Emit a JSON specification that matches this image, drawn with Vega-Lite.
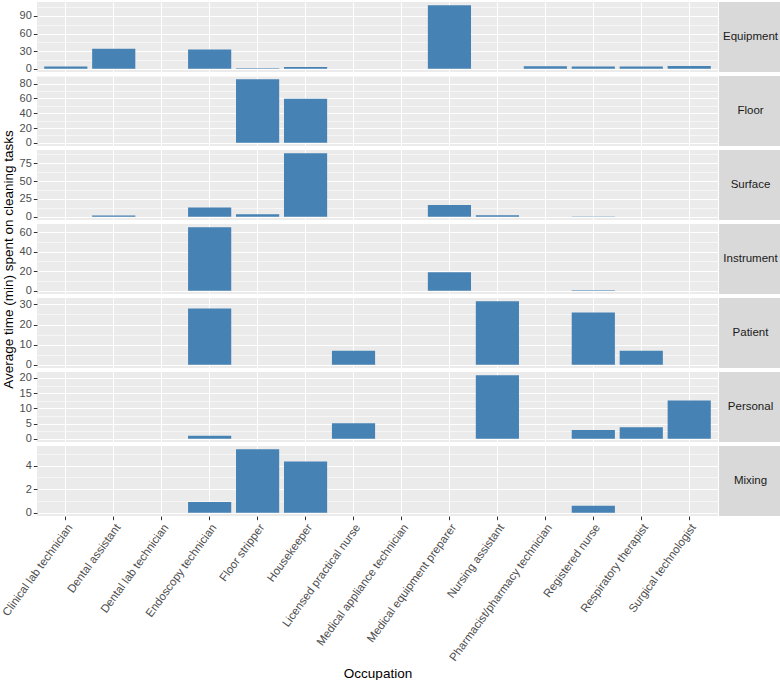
{
  "$schema": "https://vega.github.io/schema/vega-lite/v6.json",
  "padding": {"left": 0, "top": 2, "right": 0, "bottom": 4},
  "background": "white",
  "bounds": "flush",
  "config": {
    "font": "Liberation Sans",
    "view": {"fill": "#EBEBEB", "stroke": null},
    "axis": {
      "domain": false,
      "gridColor": "#FFFFFF",
      "gridWidth": 1.1,
      "tickColor": "#333333",
      "tickSize": 3.7,
      "tickWidth": 1,
      "labelColor": "#4D4D4D",
      "labelFont": "Liberation Sans",
      "labelFontSize": 11,
      "labelPadding": 2,
      "titleFont": "Liberation Sans",
      "titleFontSize": 13.5,
      "titleFontWeight": "normal",
      "titleColor": "#000000"
    }
  },
  "datasets": {
    "cleaning": [
      {"Task": "Equipment", "Occupation": "Clinical lab technician", "Minutes": 4},
      {"Task": "Equipment", "Occupation": "Dental assistant", "Minutes": 34},
      {"Task": "Equipment", "Occupation": "Endoscopy technician", "Minutes": 33},
      {"Task": "Equipment", "Occupation": "Floor stripper", "Minutes": 1.1},
      {"Task": "Equipment", "Occupation": "Housekeeper", "Minutes": 3.2},
      {"Task": "Equipment", "Occupation": "Medical equipment preparer", "Minutes": 108.4},
      {"Task": "Equipment", "Occupation": "Pharmacist/pharmacy technician", "Minutes": 4.5},
      {"Task": "Equipment", "Occupation": "Registered nurse", "Minutes": 4},
      {"Task": "Equipment", "Occupation": "Respiratory therapist", "Minutes": 4},
      {"Task": "Equipment", "Occupation": "Surgical technologist", "Minutes": 5},
      {"Task": "Floor", "Occupation": "Floor stripper", "Minutes": 86},
      {"Task": "Floor", "Occupation": "Housekeeper", "Minutes": 59.5},
      {"Task": "Surface", "Occupation": "Dental assistant", "Minutes": 2},
      {"Task": "Surface", "Occupation": "Endoscopy technician", "Minutes": 13},
      {"Task": "Surface", "Occupation": "Floor stripper", "Minutes": 3.5},
      {"Task": "Surface", "Occupation": "Housekeeper", "Minutes": 89},
      {"Task": "Surface", "Occupation": "Medical equipment preparer", "Minutes": 16.7},
      {"Task": "Surface", "Occupation": "Nursing assistant", "Minutes": 2.3},
      {"Task": "Surface", "Occupation": "Registered nurse", "Minutes": 0.4},
      {"Task": "Instrument", "Occupation": "Endoscopy technician", "Minutes": 65},
      {"Task": "Instrument", "Occupation": "Medical equipment preparer", "Minutes": 19},
      {"Task": "Instrument", "Occupation": "Registered nurse", "Minutes": 0.7},
      {"Task": "Patient", "Occupation": "Endoscopy technician", "Minutes": 28},
      {"Task": "Patient", "Occupation": "Licensed practical nurse", "Minutes": 7},
      {"Task": "Patient", "Occupation": "Nursing assistant", "Minutes": 31.6},
      {"Task": "Patient", "Occupation": "Registered nurse", "Minutes": 26},
      {"Task": "Patient", "Occupation": "Respiratory therapist", "Minutes": 7},
      {"Task": "Personal", "Occupation": "Endoscopy technician", "Minutes": 1},
      {"Task": "Personal", "Occupation": "Licensed practical nurse", "Minutes": 5.1},
      {"Task": "Personal", "Occupation": "Nursing assistant", "Minutes": 20.9},
      {"Task": "Personal", "Occupation": "Registered nurse", "Minutes": 2.9},
      {"Task": "Personal", "Occupation": "Respiratory therapist", "Minutes": 3.8},
      {"Task": "Personal", "Occupation": "Surgical technologist", "Minutes": 12.6},
      {"Task": "Mixing", "Occupation": "Endoscopy technician", "Minutes": 0.92},
      {"Task": "Mixing", "Occupation": "Floor stripper", "Minutes": 5.4},
      {"Task": "Mixing", "Occupation": "Housekeeper", "Minutes": 4.36},
      {"Task": "Mixing", "Occupation": "Registered nurse", "Minutes": 0.6}
    ],
    "strips": [
      {"Task": "Equipment"}, {"Task": "Floor"}, {"Task": "Surface"}, {"Task": "Instrument"},
      {"Task": "Patient"}, {"Task": "Personal"}, {"Task": "Mixing"}
    ]
  },
  "columns": 2,
  "spacing": {"row": 4, "column": 1},
  "concat": [
    {
      "width": 681, "height": 70,
      "data": {"name": "cleaning"},
      "transform": [{"filter": "datum.Task === 'Equipment'"}],
      "mark": {"type": "bar", "color": "#4682B4"},
      "encoding": {
        "x": {"field": "Occupation", "type": "nominal",
          "scale": {"domain": ["Clinical lab technician","Dental assistant","Dental lab technician","Endoscopy technician","Floor stripper","Housekeeper","Licensed practical nurse","Medical appliance technician","Medical equipment preparer","Nursing assistant","Pharmacist/pharmacy technician","Registered nurse","Respiratory therapist","Surgical technologist"], "paddingInner": 0.1, "paddingOuter": 0.15},
          "axis": {"labels": false, "ticks": false, "title": null, "grid": true}},
        "y": {"field": "Minutes", "type": "quantitative",
          "scale": {"domain": [-5.42, 113.82], "nice": false, "zero": false},
          "axis": {"title": null, "values": [0,15,30,45,60,75,90,105],
            "labelExpr": "datum.value % 30 === 0 ? datum.label : ''",
            "tickOpacity": {"condition": {"test": "datum.value % 30 !== 0", "value": 0}, "value": 1},
            "gridWidth": {"condition": {"test": "datum.value % 30 !== 0", "value": 0.55}, "value": 1.1}}}
      }
    },
    {
      "width": 63, "height": 70,
      "data": {"name": "strips"},
      "transform": [{"filter": "datum.Task === 'Equipment'"}],
      "view": {"fill": "#D9D9D9", "stroke": null},
      "mark": {"type": "text", "fontSize": 11.5, "color": "#1A1A1A", "font": "Liberation Sans"},
      "encoding": {"text": {"field": "Task"}}
    },
    {
      "width": 681, "height": 70,
      "data": {"name": "cleaning"},
      "transform": [{"filter": "datum.Task === 'Floor'"}],
      "mark": {"type": "bar", "color": "#4682B4"},
      "encoding": {
        "x": {"field": "Occupation", "type": "nominal",
          "scale": {"domain": ["Clinical lab technician","Dental assistant","Dental lab technician","Endoscopy technician","Floor stripper","Housekeeper","Licensed practical nurse","Medical appliance technician","Medical equipment preparer","Nursing assistant","Pharmacist/pharmacy technician","Registered nurse","Respiratory therapist","Surgical technologist"], "paddingInner": 0.1, "paddingOuter": 0.15},
          "axis": {"labels": false, "ticks": false, "title": null, "grid": true}},
        "y": {"field": "Minutes", "type": "quantitative",
          "scale": {"domain": [-4.3, 90.3], "nice": false, "zero": false},
          "axis": {"title": null, "values": [0,10,20,30,40,50,60,70,80,90],
            "labelExpr": "datum.value % 20 === 0 ? datum.label : ''",
            "tickOpacity": {"condition": {"test": "datum.value % 20 !== 0", "value": 0}, "value": 1},
            "gridWidth": {"condition": {"test": "datum.value % 20 !== 0", "value": 0.55}, "value": 1.1}}}
      }
    },
    {
      "width": 63, "height": 70,
      "data": {"name": "strips"},
      "transform": [{"filter": "datum.Task === 'Floor'"}],
      "view": {"fill": "#D9D9D9", "stroke": null},
      "mark": {"type": "text", "fontSize": 11.5, "color": "#1A1A1A", "font": "Liberation Sans"},
      "encoding": {"text": {"field": "Task"}}
    },
    {
      "width": 681, "height": 70,
      "data": {"name": "cleaning"},
      "transform": [{"filter": "datum.Task === 'Surface'"}],
      "mark": {"type": "bar", "color": "#4682B4"},
      "encoding": {
        "x": {"field": "Occupation", "type": "nominal",
          "scale": {"domain": ["Clinical lab technician","Dental assistant","Dental lab technician","Endoscopy technician","Floor stripper","Housekeeper","Licensed practical nurse","Medical appliance technician","Medical equipment preparer","Nursing assistant","Pharmacist/pharmacy technician","Registered nurse","Respiratory therapist","Surgical technologist"], "paddingInner": 0.1, "paddingOuter": 0.15},
          "axis": {"labels": false, "ticks": false, "title": null, "grid": true}},
        "y": {"field": "Minutes", "type": "quantitative",
          "scale": {"domain": [-4.45, 93.45], "nice": false, "zero": false},
          "axis": {"title": null, "values": [0,12.5,25,37.5,50,62.5,75,87.5],
            "labelExpr": "datum.value % 25 === 0 ? datum.label : ''",
            "tickOpacity": {"condition": {"test": "datum.value % 25 !== 0", "value": 0}, "value": 1},
            "gridWidth": {"condition": {"test": "datum.value % 25 !== 0", "value": 0.55}, "value": 1.1}}}
      }
    },
    {
      "width": 63, "height": 70,
      "data": {"name": "strips"},
      "transform": [{"filter": "datum.Task === 'Surface'"}],
      "view": {"fill": "#D9D9D9", "stroke": null},
      "mark": {"type": "text", "fontSize": 11.5, "color": "#1A1A1A", "font": "Liberation Sans"},
      "encoding": {"text": {"field": "Task"}}
    },
    {
      "width": 681, "height": 70,
      "data": {"name": "cleaning"},
      "transform": [{"filter": "datum.Task === 'Instrument'"}],
      "mark": {"type": "bar", "color": "#4682B4"},
      "encoding": {
        "x": {"field": "Occupation", "type": "nominal",
          "scale": {"domain": ["Clinical lab technician","Dental assistant","Dental lab technician","Endoscopy technician","Floor stripper","Housekeeper","Licensed practical nurse","Medical appliance technician","Medical equipment preparer","Nursing assistant","Pharmacist/pharmacy technician","Registered nurse","Respiratory therapist","Surgical technologist"], "paddingInner": 0.1, "paddingOuter": 0.15},
          "axis": {"labels": false, "ticks": false, "title": null, "grid": true}},
        "y": {"field": "Minutes", "type": "quantitative",
          "scale": {"domain": [-3.25, 68.25], "nice": false, "zero": false},
          "axis": {"title": "Average time (min) spent on cleaning tasks", "titlePadding": 4,
            "values": [0,10,20,30,40,50,60],
            "labelExpr": "datum.value % 20 === 0 ? datum.label : ''",
            "tickOpacity": {"condition": {"test": "datum.value % 20 !== 0", "value": 0}, "value": 1},
            "gridWidth": {"condition": {"test": "datum.value % 20 !== 0", "value": 0.55}, "value": 1.1}}}
      }
    },
    {
      "width": 63, "height": 70,
      "data": {"name": "strips"},
      "transform": [{"filter": "datum.Task === 'Instrument'"}],
      "view": {"fill": "#D9D9D9", "stroke": null},
      "mark": {"type": "text", "fontSize": 11.5, "color": "#1A1A1A", "font": "Liberation Sans"},
      "encoding": {"text": {"field": "Task"}}
    },
    {
      "width": 681, "height": 70,
      "data": {"name": "cleaning"},
      "transform": [{"filter": "datum.Task === 'Patient'"}],
      "mark": {"type": "bar", "color": "#4682B4"},
      "encoding": {
        "x": {"field": "Occupation", "type": "nominal",
          "scale": {"domain": ["Clinical lab technician","Dental assistant","Dental lab technician","Endoscopy technician","Floor stripper","Housekeeper","Licensed practical nurse","Medical appliance technician","Medical equipment preparer","Nursing assistant","Pharmacist/pharmacy technician","Registered nurse","Respiratory therapist","Surgical technologist"], "paddingInner": 0.1, "paddingOuter": 0.15},
          "axis": {"labels": false, "ticks": false, "title": null, "grid": true}},
        "y": {"field": "Minutes", "type": "quantitative",
          "scale": {"domain": [-1.58, 33.18], "nice": false, "zero": false},
          "axis": {"title": null, "values": [0,5,10,15,20,25,30],
            "labelExpr": "datum.value % 10 === 0 ? datum.label : ''",
            "tickOpacity": {"condition": {"test": "datum.value % 10 !== 0", "value": 0}, "value": 1},
            "gridWidth": {"condition": {"test": "datum.value % 10 !== 0", "value": 0.55}, "value": 1.1}}}
      }
    },
    {
      "width": 63, "height": 70,
      "data": {"name": "strips"},
      "transform": [{"filter": "datum.Task === 'Patient'"}],
      "view": {"fill": "#D9D9D9", "stroke": null},
      "mark": {"type": "text", "fontSize": 11.5, "color": "#1A1A1A", "font": "Liberation Sans"},
      "encoding": {"text": {"field": "Task"}}
    },
    {
      "width": 681, "height": 70,
      "data": {"name": "cleaning"},
      "transform": [{"filter": "datum.Task === 'Personal'"}],
      "mark": {"type": "bar", "color": "#4682B4"},
      "encoding": {
        "x": {"field": "Occupation", "type": "nominal",
          "scale": {"domain": ["Clinical lab technician","Dental assistant","Dental lab technician","Endoscopy technician","Floor stripper","Housekeeper","Licensed practical nurse","Medical appliance technician","Medical equipment preparer","Nursing assistant","Pharmacist/pharmacy technician","Registered nurse","Respiratory therapist","Surgical technologist"], "paddingInner": 0.1, "paddingOuter": 0.15},
          "axis": {"labels": false, "ticks": false, "title": null, "grid": true}},
        "y": {"field": "Minutes", "type": "quantitative",
          "scale": {"domain": [-1.045, 21.945], "nice": false, "zero": false},
          "axis": {"title": null, "values": [0,2.5,5,7.5,10,12.5,15,17.5,20],
            "labelExpr": "datum.value % 5 === 0 ? datum.label : ''",
            "tickOpacity": {"condition": {"test": "datum.value % 5 !== 0", "value": 0}, "value": 1},
            "gridWidth": {"condition": {"test": "datum.value % 5 !== 0", "value": 0.55}, "value": 1.1}}}
      }
    },
    {
      "width": 63, "height": 70,
      "data": {"name": "strips"},
      "transform": [{"filter": "datum.Task === 'Personal'"}],
      "view": {"fill": "#D9D9D9", "stroke": null},
      "mark": {"type": "text", "fontSize": 11.5, "color": "#1A1A1A", "font": "Liberation Sans"},
      "encoding": {"text": {"field": "Task"}}
    },
    {
      "width": 681, "height": 70,
      "data": {"name": "cleaning"},
      "transform": [{"filter": "datum.Task === 'Mixing'"}],
      "mark": {"type": "bar", "color": "#4682B4"},
      "encoding": {
        "x": {"field": "Occupation", "type": "nominal",
          "scale": {"domain": ["Clinical lab technician","Dental assistant","Dental lab technician","Endoscopy technician","Floor stripper","Housekeeper","Licensed practical nurse","Medical appliance technician","Medical equipment preparer","Nursing assistant","Pharmacist/pharmacy technician","Registered nurse","Respiratory therapist","Surgical technologist"], "paddingInner": 0.1, "paddingOuter": 0.15},
          "axis": {"title": "Occupation", "titlePadding": 4, "grid": true, "labelAngle": -54, "labelAlign": "right", "labelBaseline": "top", "labelPadding": 2, "labelFontSize": 11.5}},
        "y": {"field": "Minutes", "type": "quantitative",
          "scale": {"domain": [-0.27, 5.67], "nice": false, "zero": false},
          "axis": {"title": null, "values": [0,1,2,3,4,5],
            "labelExpr": "datum.value % 2 === 0 ? datum.label : ''",
            "tickOpacity": {"condition": {"test": "datum.value % 2 !== 0", "value": 0}, "value": 1},
            "gridWidth": {"condition": {"test": "datum.value % 2 !== 0", "value": 0.55}, "value": 1.1}}}
      }
    },
    {
      "width": 63, "height": 70,
      "data": {"name": "strips"},
      "transform": [{"filter": "datum.Task === 'Mixing'"}],
      "view": {"fill": "#D9D9D9", "stroke": null},
      "mark": {"type": "text", "fontSize": 11.5, "color": "#1A1A1A", "font": "Liberation Sans"},
      "encoding": {"text": {"field": "Task"}}
    }
  ]
}
